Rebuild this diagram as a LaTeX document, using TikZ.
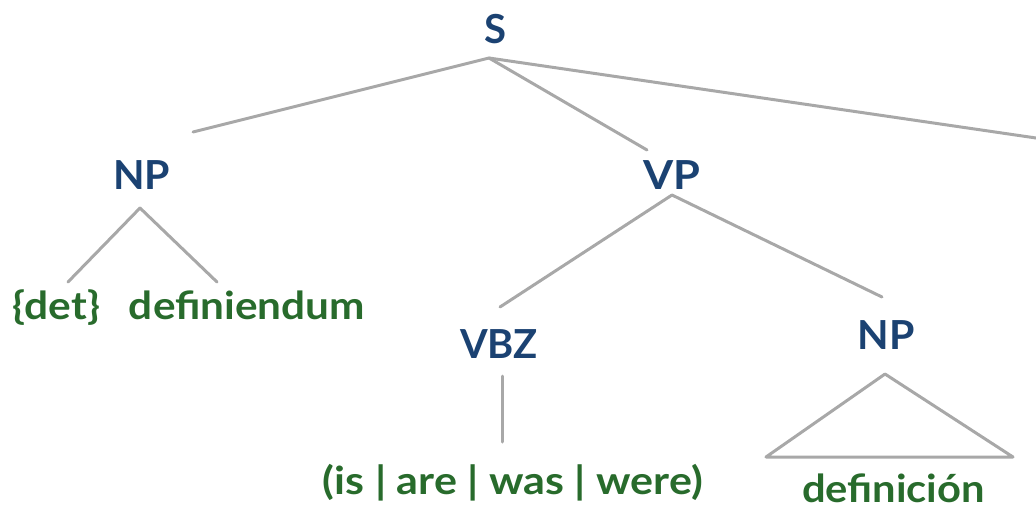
\documentclass[tikz,border=0pt]{standalone}
\usepackage{graphicx}
\usepackage{fontspec}
\setmainfont{Lato}
\definecolor{catblue}{HTML}{1B4272}
\definecolor{wordgreen}{HTML}{286B2C}
\definecolor{edgegray}{HTML}{A8A8A8}
% set a label to a given width, keeping its height
\newcommand{\fitw}[2]{\resizebox{#1}{\height}{#2}}
\begin{document}
\begin{tikzpicture}[x=1pt,y=-1pt,
  cat/.style={inner sep=0pt,anchor=base,text=catblue,font=\fontsize{40}{44}\selectfont\bfseries},
  word/.style={inner sep=0pt,anchor=base,text=wordgreen,font=\fontsize{38.5}{42}\selectfont\bfseries},
  edge/.style={draw=edgegray,line width=3pt,line cap=round,line join=round}]
\useasboundingbox (0,0) rectangle (1036,506);

% category labels
\node[cat] (s) at (495,43) {\fitw{22pt}{S}};
\node[cat] (np1) at (141.5,189) {\fitw{57pt}{NP}};
\node[cat] (vp) at (671.5,189) {\fitw{57pt}{VP}};
\node[cat] (vbz) at (499,358) {\fitw{78pt}{VBZ}};
\node[cat] (np2) at (886,349) {\fitw{57pt}{NP}};

% terminal words
\node[word] (det) at (56.5,319) {\fitw{87pt}{\{det\}}};
\node[word] (dfd) at (247,319) {\fitw{236pt}{definiendum}};
\node[word] (cop) at (513,494) {\fitw{380pt}{(is | are | was | were)}};
\node[word] (dfn) at (893.5,502) {\raisebox{0pt}[\height][0pt]{\fitw{183pt}{definición}}};

% branch end points
\coordinate (s-b) at (489,58);
\coordinate (np1-t) at (193,132);
\coordinate (vp-t) at (647,150);
\coordinate (out-r) at (1060,141.5);
\coordinate (np1-b) at (140,208);
\coordinate (det-t) at (68,282);
\coordinate (dfd-t) at (217,282);
\coordinate (vp-b) at (672,195);
\coordinate (vbz-t) at (500,307);
\coordinate (np2-t) at (882,297);
\coordinate (vbz-b) at (502,376);
\coordinate (cop-t) at (502,442);
\coordinate (tri-a) at (885,374);
\coordinate (tri-l) at (766,457);
\coordinate (tri-r) at (1013,457);

% branches
\draw[edge] (s-b) -- (np1-t);
\draw[edge] (s-b) -- (vp-t);
\draw[edge] (s-b) -- (out-r);
\draw[edge] (np1-b) -- (det-t);
\draw[edge] (np1-b) -- (dfd-t);
\draw[edge] (vp-b) -- (vbz-t);
\draw[edge] (vp-b) -- (np2-t);
\draw[edge] (vbz-b) -- (cop-t);
\draw[edge] (tri-a) -- (tri-l) -- (tri-r) -- cycle;
\end{tikzpicture}
\end{document}
